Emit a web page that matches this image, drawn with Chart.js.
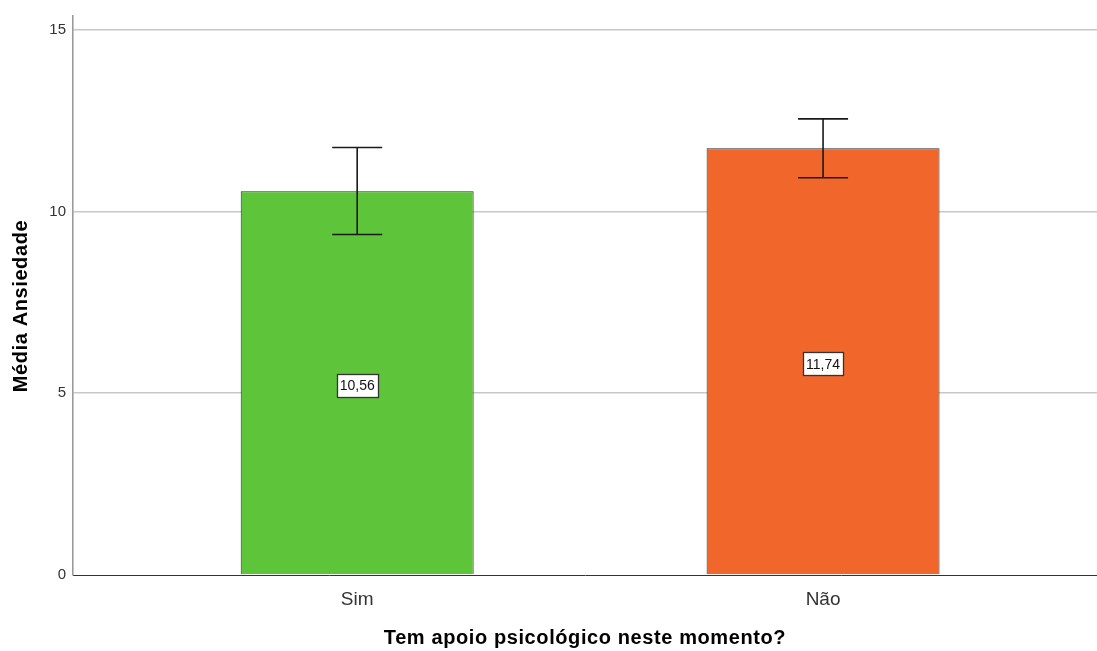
<!DOCTYPE html>
<html>
<head>
<meta charset="utf-8">
<script src="https://cdn.jsdelivr.net/npm/chart.js@4/dist/chart.umd.min.js"></script>
<style>
  html, body { margin: 0; padding: 0; background: #fff; }
  #wrap { width: 1097px; height: 651px; }
</style>
</head>
<body>
<div id="wrap"><canvas id="my_chart"></canvas></div>
<script>
// data
const categories = ['Sim', 'Não'];
const means = [10.56, 11.74];
const ci_low = [9.37, 10.93];
const ci_high = [11.76, 12.55];
const y_ticks = [0, 5, 10, 15];
const bar_colors = ['#5ec43a', '#f1672b'];
const x_title = 'Tem apoio psicológico neste momento?';
const y_title = 'Média Ansiedade';

const FONT = '"Liberation Sans", Arial, sans-serif';

const error_bars = {
    id: 'error_bars',
    afterDatasetsDraw(chart) {
        const ctx = chart.ctx;
        const x = chart.scales.x, y = chart.scales.y;
        ctx.save();
        means.forEach((m, i) => {
            const px = x.getPixelForValue(i + 1);
            const top = y.getPixelForValue(ci_high[i]);
            const bot = y.getPixelForValue(ci_low[i]);
            ctx.strokeStyle = '#1a1a1a';
            ctx.lineWidth = 1.6;
            ctx.beginPath();
            ctx.moveTo(px, top); ctx.lineTo(px, bot);
            ctx.moveTo(px - 25, top); ctx.lineTo(px + 25, top);
            ctx.moveTo(px - 25, bot); ctx.lineTo(px + 25, bot);
            ctx.stroke();

            // value label box in the middle of the bar
            const txt = m.toFixed(2).replace('.', ',');
            ctx.font = '14px ' + FONT;
            const w = Math.round(ctx.measureText(txt).width + 6);
            const h = 23;
            const cy = y.getPixelForValue(m / 2) + 2;
            const bx = Math.round(px - w / 2) + 0.5, by = Math.round(cy - h / 2) + 0.5;
            ctx.fillStyle = '#fff';
            ctx.fillRect(bx, by, w, h);
            ctx.strokeStyle = '#333';
            ctx.lineWidth = 1.3;
            ctx.strokeRect(bx, by, w, h);
            ctx.fillStyle = '#111';
            ctx.textAlign = 'center';
            ctx.textBaseline = 'middle';
            ctx.fillText(txt, px, cy + 1);
        });
        ctx.restore();
    }
};

// axis titles, drawn a bit wider like the original
const axis_titles = {
    id: 'axis_titles',
    afterDraw(chart) {
        const ctx = chart.ctx;
        const area = chart.chartArea;
        ctx.save();
        ctx.font = 'bold 20px ' + FONT;
        ctx.fillStyle = '#000';
        ctx.textAlign = 'center';
        ctx.textBaseline = 'middle';
        ctx.letterSpacing = '0.6px';
        ctx.fillText(x_title, (area.left + area.right) / 2, 638);
        ctx.translate(21, 306);
        ctx.rotate(-Math.PI / 2);
        ctx.fillText(y_title, 0, 0);
        ctx.restore();
    }
};

const ctx = document.getElementById('my_chart').getContext('2d');
window.my_bar_chart = new Chart(ctx, {
    type: 'bar',
    data: {
        datasets: [{
            data: means.map((v, i) => ({ x: i + 1, y: v })),
            backgroundColor: bar_colors,
            borderColor: '#2b2b2b',
            borderWidth: 1,
            categoryPercentage: 1,
            barPercentage: 0.5
        }]
    },
    options: {
        responsive: true,
        maintainAspectRatio: false,
        animation: false,
        layout: { padding: 0 },
        plugins: { legend: { display: false }, tooltip: { enabled: false } },
        scales: {
            x: {
                type: 'linear',
                offset: false,
                min: 0.39,
                max: 2.588,
                afterBuildTicks: axis => { axis.ticks = categories.map((c, i) => ({ value: i + 1 })); },
                afterFit: axis => { axis.height = 76; },
                ticks: {
                    callback: v => categories[v - 1] || '',
                    color: '#333',
                    font: { family: FONT, size: 19 },
                    padding: 13
                },
                grid: { display: false, drawTicks: false, offset: false },
                border: { color: '#333', width: 1 }
            },
            y: {
                min: 0,
                max: 15.38,
                afterBuildTicks: axis => { axis.ticks = y_ticks.map(v => ({ value: v })); },
                afterFit: axis => { axis.width = 73; },
                ticks: {
                    color: '#333',
                    font: { family: FONT, size: 15 },
                    padding: 7
                },
                grid: {
                    drawTicks: false,
                    color: c => c.tick && c.tick.value === 0 ? 'rgba(0,0,0,0)' : '#c8c8c8',
                    lineWidth: 1.6
                },
                border: { color: '#9a9a9a', width: 1.6 }
            }
        }
    },
    plugins: [error_bars, axis_titles]
});
</script>
</body>
</html>
